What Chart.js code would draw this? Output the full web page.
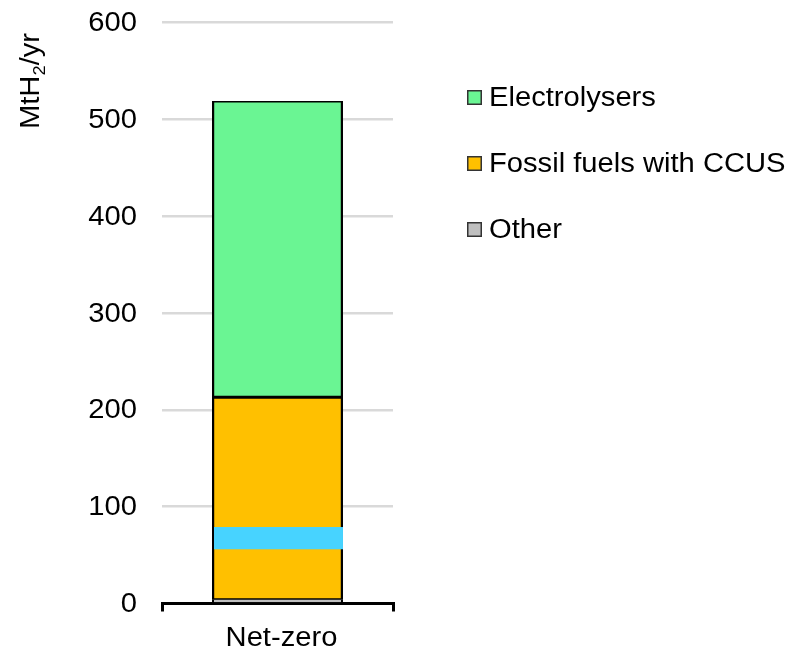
<!DOCTYPE html>
<html>
<head>
<meta charset="utf-8">
<script src="https://cdn.jsdelivr.net/npm/chart.js@4"></script>
<style>
  html, body { margin: 0; padding: 0; background: #fff; }
  #wrap { width: 790px; height: 652px; }
</style>
</head>
<body>
<div id="wrap"><canvas id="c" width="790" height="652"></canvas></div>
<script>
// Hydrogen production by route, net-zero scenario (MtH2/yr)
const categories = ['Net-zero'];
const seriesNames = ['Other', 'Fossil fuels with CCUS', 'Electrolysers'];
const otherValues = [4];
const fossilCcusValues = [209];
const electrolyserValues = [306];
const highlightRange = [56, 79];          // shaded band inside the CCUS segment
const yTickValues = [0, 100, 200, 300, 400, 500, 600];

const colors = {
  other: '#BFBFBF',
  fossil: '#FFC000',
  electro: '#6AF593',
  band: '#47D3FF',
  grid: '#D9D9D9'
};

const FONT = '27px "Liberation Sans", Arial, sans-serif';
const SUB_FONT = '17px "Liberation Sans", Arial, sans-serif';
const SX = 1.08; // slightly widened lettering

function wideText(ctx, text, x, y, align, baseline) {
  ctx.save();
  ctx.translate(x, y);
  ctx.scale(SX, 1);
  ctx.textAlign = align;
  ctx.textBaseline = baseline;
  ctx.fillText(text, 0, 0);
  ctx.restore();
}

const textPlugin = {
  id: 'textPlugin',
  beforeDatasetsDraw(chart) {
    // solid outline behind the upper segments so their seam stays black
    const ctx = chart.ctx;
    const midBar = chart.getDatasetMeta(1).data[0];
    const topBar = chart.getDatasetMeta(chart.data.datasets.length - 1).data[0];
    if (!midBar || !topBar) return;
    const half = midBar.width / 2;
    ctx.save();
    ctx.fillStyle = '#000';
    ctx.fillRect(midBar.x - half, topBar.y, midBar.width, midBar.base - topBar.y);
    ctx.restore();
  },
  afterDatasetsDraw(chart) {
    const ctx = chart.ctx;
    const yScale = chart.scales.y;
    const bar = chart.getDatasetMeta(1).data[0];
    if (!bar) return;
    // highlighted band drawn over the CCUS segment
    const half = bar.width / 2;
    const yTop = yScale.getPixelForValue(highlightRange[1]);
    const yBot = yScale.getPixelForValue(highlightRange[0]);
    ctx.save();
    ctx.fillStyle = colors.band;
    ctx.fillRect(bar.x - half + 2, yTop, bar.width - 2, yBot - yTop);
    ctx.restore();
  },
  afterDraw(chart) {
    const ctx = chart.ctx;
    const yScale = chart.scales.y;
    const xScale = chart.scales.x;
    ctx.save();
    ctx.fillStyle = '#000';
    ctx.font = FONT;

    // y tick labels
    yTickValues.forEach(v => {
      wideText(ctx, String(v), 137, yScale.getPixelForValue(v) + 1, 'right', 'middle');
    });

    // x category labels
    categories.forEach((c, i) => {
      wideText(ctx, c, xScale.getPixelForTick(i) + 4, 639, 'center', 'middle');
    });

    // rotated y title: MtH2/yr with subscript
    const p1 = 'MtH', p2 = '2', p3 = '/yr';
    ctx.font = FONT;
    const w1 = ctx.measureText(p1).width;
    const w3 = ctx.measureText(p3).width;
    ctx.font = SUB_FONT;
    const w2 = ctx.measureText(p2).width;
    const total = (w1 + w2 + w3) * SX;
    ctx.save();
    ctx.translate(39, 81);
    ctx.rotate(-Math.PI / 2);
    ctx.scale(SX, 1);
    ctx.textBaseline = 'alphabetic';
    ctx.textAlign = 'left';
    const x0 = -total / 2 / SX;
    ctx.font = FONT;
    ctx.fillText(p1, x0, 0);
    ctx.font = SUB_FONT;
    ctx.fillText(p2, x0 + w1, 6);
    ctx.font = FONT;
    ctx.fillText(p3, x0 + w1 + w2, 0);
    ctx.restore();

    // legend, top series first
    const ds = chart.data.datasets.slice().reverse();
    ds.forEach((d, i) => {
      const cy = 97.5 + i * 66;
      ctx.fillStyle = d.backgroundColor;
      ctx.fillRect(467, cy - 7.5, 15, 15);
      ctx.strokeStyle = '#333';
      ctx.lineWidth = 1.5;
      ctx.strokeRect(467.75, cy - 6.75, 13.5, 13.5);
      ctx.fillStyle = '#000';
      ctx.font = FONT;
      wideText(ctx, d.label, 489, cy + 1, 'left', 'middle');
    });
    ctx.restore();
  }
};

const segmentBorder = { top: 1.5, bottom: 1.5, left: 2.2, right: 2.2 };

new Chart(document.getElementById('c'), {
  type: 'bar',
  data: {
    labels: categories,
    datasets: [
      { label: seriesNames[0], data: otherValues, backgroundColor: colors.other,
        borderWidth: { top: 0, bottom: 0, left: 2.2, right: 2.2 } },
      { label: seriesNames[1], data: fossilCcusValues, backgroundColor: colors.fossil,
        borderWidth: segmentBorder },
      { label: seriesNames[2], data: electrolyserValues, backgroundColor: colors.electro,
        borderWidth: segmentBorder }
    ].map(d => Object.assign(d, {
      borderColor: '#000',
      borderSkipped: false,
      inflateAmount: 0,
      categoryPercentage: 1,
      barPercentage: 0.567
    }))
  },
  options: {
    responsive: false,
    animation: false,
    layout: { padding: { left: 162, right: 397, top: 22.7, bottom: 40.5 } },
    plugins: { legend: { display: false }, tooltip: { enabled: false } },
    scales: {
      x: {
        stacked: true,
        offset: true,
        ticks: { display: false },
        grid: {
          display: true,
          offset: true,
          drawOnChartArea: false,
          drawTicks: true,
          tickLength: 8,
          color: '#000',
          lineWidth: 3
        },
        border: { display: true, color: '#000', width: 3 }
      },
      y: {
        stacked: true,
        min: 0,
        max: 600,
        ticks: { display: false, stepSize: 100 },
        grid: { color: colors.grid, lineWidth: 2.5, drawTicks: false },
        border: { display: false }
      }
    }
  },
  plugins: [textPlugin]
});
</script>
</body>
</html>
